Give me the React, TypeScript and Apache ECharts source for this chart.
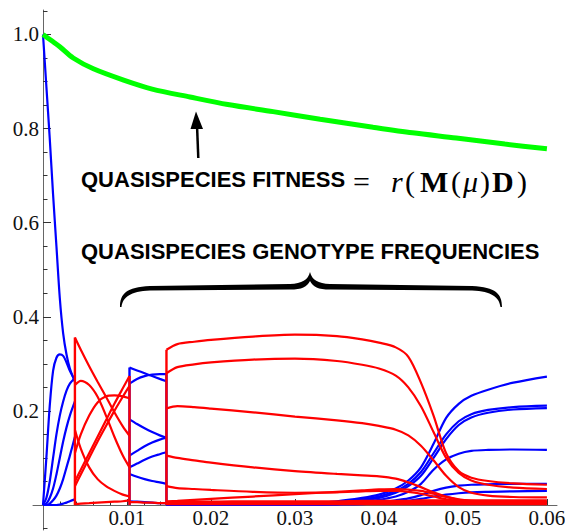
import React, { useEffect, useRef } from 'react';
import * as echarts from 'echarts';

const BRACE_D =
  'M0,35 C0,22 6,15 30,14 L170,12 C182,11.5 188,8 190,0 C192,8 198,11.5 210,12 L352,14 C376,15 382,22 382,35 ' +
  'L380.5,35 C379,25 372,19.5 352,18.5 L210,17.5 C198,17.5 193,15 190,9 C187,15 182,17.5 170,17.5 L30,18.5 C10,19.5 3,25 1.5,35 Z';
try {
  echarts.graphic.registerShape('brace', echarts.graphic.extendPath(BRACE_D, {}));
} catch (e) {}

// ---------- data ----------
const xTickLabels = [0.01, 0.02, 0.03, 0.04, 0.05, 0.06];
const xMinorTicks = [0.002, 0.004, 0.006, 0.008, 0.012, 0.014, 0.016, 0.018, 0.022, 0.024, 0.026, 0.028, 0.032, 0.034, 0.036, 0.038, 0.042, 0.044, 0.046, 0.048, 0.052, 0.054, 0.056, 0.058];
const yTickLabels = [0.2, 0.4, 0.6, 0.8, 1.0];
const yMinorTicks = [0.05, 0.1, 0.15, 0.25, 0.3, 0.35, 0.45, 0.5, 0.55, 0.65, 0.7, 0.75, 0.85, 0.9, 0.95, 1.05];
const yBelowTicks = [-0.05];

// fitness
const greenX = [0, 0.001, 0.002, 0.0036, 0.006, 0.0096, 0.013, 0.0175, 0.022, 0.0274, 0.033, 0.0393, 0.044, 0.0492, 0.055, 0.06];
const greenY = [1.0, 0.987, 0.974, 0.95, 0.927, 0.903, 0.884, 0.867, 0.851, 0.836, 0.82, 0.803, 0.791, 0.78, 0.767, 0.757];

// phase A (blue)
const phaseAX = [0, 0.0004, 0.0008, 0.0012, 0.0016, 0.002, 0.0024, 0.0028, 0.0032, 0.0038];
const blueA1 = [1.0, 0.89, 0.78, 0.66, 0.55, 0.44, 0.365, 0.32, 0.29, 0.262];
const blueA2 = [0, 0.1, 0.21, 0.285, 0.313, 0.32, 0.317, 0.303, 0.285, 0.265];
const blueA3 = [0, 0.015, 0.05, 0.1, 0.15, 0.19, 0.22, 0.243, 0.258, 0.27];
const blueA4 = [0, 0.003, 0.015, 0.035, 0.065, 0.1, 0.135, 0.165, 0.19, 0.22];
const blueA5 = [0, 0, 0.003, 0.01, 0.02, 0.035, 0.055, 0.08, 0.105, 0.145];
const blueA6 = [0, 0, 0, 0, 0, 0.001, 0.003, 0.005, 0.008, 0.012];

// phase B (red)
const phaseBX = [0.0038, 0.0045, 0.0055, 0.0065, 0.0075, 0.0085, 0.0095, 0.0103];
const redB1 = [0.356, 0.33, 0.295, 0.262, 0.23, 0.197, 0.167, 0.147];
const redB2 = [0.255, 0.264, 0.255, 0.23, 0.19, 0.145, 0.105, 0.08];
const redB3 = [0.16, 0.12, 0.08, 0.055, 0.04, 0.03, 0.022, 0.018];
const redB4 = [0.11, 0.15, 0.19, 0.218, 0.231, 0.233, 0.231, 0.227];
const redB5 = [0.05, 0.075, 0.11, 0.145, 0.18, 0.215, 0.248, 0.274];
const redB6 = [0.04, 0.065, 0.1, 0.135, 0.168, 0.2, 0.23, 0.253];
const redB7 = [0.002, 0.003, 0.004, 0.005, 0.006, 0.007, 0.008, 0.01];

// phase C (blue)
const phaseCX = [0.0103, 0.0112, 0.0121, 0.013, 0.0139, 0.0147];
const blueC1 = [0.292, 0.286, 0.28, 0.274, 0.268, 0.263];
const blueC2 = [0.258, 0.268, 0.274, 0.277, 0.278, 0.278];
const blueC3 = [0.182, 0.172, 0.163, 0.155, 0.148, 0.143];
const blueC4 = [0.105, 0.115, 0.125, 0.133, 0.139, 0.143];
const blueC5 = [0.08, 0.088, 0.096, 0.103, 0.108, 0.112];
const blueC6 = [0.066, 0.06, 0.055, 0.051, 0.048, 0.045];
const blueC7 = [0.008, 0.007, 0.006, 0.005, 0.004, 0.004];
const redC8 = [0.006, 0.006, 0.005, 0.005, 0.004, 0.004];

// phase D (red falling, blue rising)
const phaseDX = [0.0147, 0.016, 0.018, 0.02, 0.025, 0.03, 0.035, 0.038, 0.04, 0.042, 0.0435, 0.045, 0.0465, 0.048, 0.0495, 0.051, 0.053, 0.056, 0.06];
const redD1 = [0.33, 0.342, 0.347, 0.351, 0.358, 0.362, 0.359, 0.352, 0.345, 0.335, 0.315, 0.26, 0.19, 0.11, 0.072, 0.058, 0.051, 0.046, 0.043];
const redD2 = [0.28, 0.293, 0.299, 0.303, 0.309, 0.311, 0.306, 0.298, 0.29, 0.275, 0.25, 0.21, 0.155, 0.1, 0.068, 0.052, 0.043, 0.037, 0.034];
const redD3 = [0.205, 0.21, 0.208, 0.205, 0.197, 0.188, 0.18, 0.174, 0.168, 0.16, 0.148, 0.126, 0.095, 0.062, 0.038, 0.026, 0.02, 0.017, 0.016];
const redD4 = [0.105, 0.1, 0.095, 0.09, 0.08, 0.072, 0.066, 0.063, 0.061, 0.056, 0.048, 0.038, 0.027, 0.018, 0.012, 0.009, 0.007, 0.006, 0.006];
const redD5 = [0.04, 0.036, 0.034, 0.032, 0.028, 0.026, 0.027, 0.029, 0.03, 0.03, 0.028, 0.024, 0.018, 0.012, 0.008, 0.006, 0.005, 0.005, 0.005];
const redD6 = [0.008, 0.009, 0.011, 0.013, 0.018, 0.023, 0.028, 0.031, 0.033, 0.034, 0.033, 0.03, 0.024, 0.017, 0.011, 0.008, 0.006, 0.005, 0.005];
const redD7 = [0.002, 0.002, 0.002, 0.002, 0.002, 0.002, 0.002, 0.002, 0.002, 0.002, 0.002, 0.002, 0.002, 0.002, 0.002, 0.002, 0.002, 0.002, 0.002];
const redD8 = [0.004, 0.004, 0.005, 0.005, 0.005, 0.005, 0.006, 0.006, 0.006, 0.006, 0.006, 0.006, 0.006, 0.006, 0.006, 0.006, 0.006, 0.006, 0.006];
const redD9 = [0.006, 0.006, 0.007, 0.007, 0.008, 0.008, 0.008, 0.009, 0.009, 0.009, 0.009, 0.01, 0.01, 0.01, 0.01, 0.01, 0.01, 0.01, 0.01];
const blueE1 = [0, 0, 0, 0, 0.001, 0.003, 0.008, 0.015, 0.022, 0.035, 0.052, 0.08, 0.13, 0.185, 0.215, 0.232, 0.245, 0.26, 0.273];
const blueE2 = [0, 0, 0, 0, 0.001, 0.002, 0.006, 0.012, 0.018, 0.03, 0.045, 0.07, 0.11, 0.15, 0.178, 0.193, 0.202, 0.208, 0.211];
const blueE3 = [0, 0, 0, 0, 0.001, 0.002, 0.005, 0.01, 0.015, 0.026, 0.04, 0.062, 0.1, 0.14, 0.17, 0.186, 0.196, 0.203, 0.206];
const blueE4 = [0, 0, 0, 0, 0, 0.001, 0.003, 0.007, 0.011, 0.018, 0.028, 0.045, 0.075, 0.097, 0.109, 0.115, 0.117, 0.118, 0.117];
const blueE5 = [0, 0, 0, 0, 0, 0, 0.002, 0.004, 0.006, 0.01, 0.014, 0.021, 0.03, 0.037, 0.041, 0.043, 0.044, 0.045, 0.045];
const blueE6 = [0, 0, 0, 0, 0, 0, 0.001, 0.002, 0.004, 0.006, 0.009, 0.013, 0.018, 0.022, 0.025, 0.027, 0.028, 0.029, 0.03];

// ---------- helpers ----------
const BLUE = '#0000ff';
const RED = '#ff0000';
const GREEN = '#00ff00';
const SERIF = '"Liberation Serif", "Times New Roman", serif';
const SANS = '"Liberation Sans", Arial, Helvetica, sans-serif';
const AXIS = '#666';
const TICK = '#333';

function curve(xs: number[], ys: number[], color: string, width = 2.2, z = 2) {
  return {
    type: 'line',
    data: xs.map((x, i) => [x, ys[i]]),
    symbol: 'none',
    showSymbol: false,
    smooth: 0.3,
    lineStyle: { color, width },
    silent: true,
    z,
  };
}
function jump(x: number, top: number, color: string, z = 2) {
  return {
    type: 'line',
    data: [[x, 0], [x, top]],
    symbol: 'none',
    showSymbol: false,
    lineStyle: { color, width: 2.4 },
    silent: true,
    z,
  };
}

const last = (a: number[]) => a[a.length - 1];

function buildOption() {
  const series: any[] = [];
  [blueA1, blueA2, blueA3, blueA4, blueA5, blueA6].forEach((s) => series.push(curve(phaseAX, s, BLUE)));
  [blueC1, blueC2, blueC3, blueC4, blueC5, blueC6, blueC7].forEach((s) => series.push(curve(phaseCX, s, BLUE)));
  series.push(jump(phaseCX[0], blueC1[0], BLUE));
  series.push(jump(last(phaseCX), last(blueC2), BLUE));
  [blueE1, blueE2, blueE3, blueE4, blueE5, blueE6].forEach((s) => series.push(curve(phaseDX, s, BLUE)));
  [redB1, redB2, redB3, redB4, redB5, redB6, redB7].forEach((s) => series.push(curve(phaseBX, s, RED, 2.2, 3)));
  series.push(jump(phaseBX[0], redB1[0], RED, 3));
  series.push(jump(last(phaseBX), last(redB5), RED, 3));
  series.push(curve(phaseCX, redC8, RED, 2.2, 3));
  [redD1, redD2, redD3, redD4, redD5, redD6, redD7, redD8, redD9].forEach((s) => series.push(curve(phaseDX, s, RED, 2.2, 3)));
  series.push(jump(phaseDX[0], redD1[0], RED, 3));
  series.push(curve(greenX, greenY, GREEN, 5, 4));

  const X_MAX = 0.0612;
  const Y_MAX = 1.052;
  const mathFont = (w: string) => `${w}30px ${SERIF}`;

  return {
    animation: false,
    grid: [
      // main plotting area (x from 0, y from 0)
      { left: 43, right: 8, top: 10, bottom: 27, containLabel: false, outerBoundsMode: 'none' },
      // y axis running below zero
      { left: 43, right: 8, top: 10, bottom: 2, containLabel: false, outerBoundsMode: 'none' },
      // x axis running left of zero
      { left: 33, right: 8, top: 10, bottom: 27, containLabel: false, outerBoundsMode: 'none' },
    ],
    xAxis: [
      {
        type: 'value', gridIndex: 0, min: 0, max: X_MAX, position: 'bottom',
        splitLine: { show: false },
        axisLine: { show: false, onZero: false },
        axisTick: { inside: true, length: 6, customValues: xTickLabels, lineStyle: { color: TICK } },
        axisLabel: {
          customValues: xTickLabels,
          formatter: (v: number) => v.toFixed(2),
          fontFamily: SERIF,
          fontSize: 21,
          color: '#111',
          margin: 2,
        },
      },
      {
        type: 'value', gridIndex: 0, min: 0, max: X_MAX, position: 'bottom',
        splitLine: { show: false },
        axisLine: { show: false, onZero: false },
        axisTick: { inside: true, length: 3.5, customValues: xMinorTicks, lineStyle: { color: TICK } },
        axisLabel: { show: false },
      },
      { type: 'value', gridIndex: 1, min: 0, max: X_MAX, show: false },
      {
        type: 'value', gridIndex: 2, min: -0.0012, max: X_MAX, position: 'bottom',
        splitLine: { show: false },
        axisLine: { show: true, onZero: false, lineStyle: { color: AXIS, width: 1 } },
        axisTick: { show: false },
        axisLabel: { show: false },
      },
    ],
    yAxis: [
      {
        type: 'value', gridIndex: 0, min: 0, max: Y_MAX, position: 'left',
        splitLine: { show: false },
        axisLine: { show: false, onZero: false },
        axisTick: { inside: true, length: 8, customValues: yTickLabels, lineStyle: { color: TICK } },
        axisLabel: {
          customValues: yTickLabels,
          formatter: (v: number) => v.toFixed(1),
          fontFamily: SERIF,
          fontSize: 21,
          color: '#111',
          margin: 4,
        },
      },
      {
        type: 'value', gridIndex: 0, min: 0, max: Y_MAX, position: 'left',
        splitLine: { show: false },
        axisLine: { show: false, onZero: false },
        axisTick: { inside: true, length: 4.5, customValues: yMinorTicks, lineStyle: { color: TICK } },
        axisLabel: { show: false },
      },
      {
        type: 'value', gridIndex: 1, min: -0.053, max: Y_MAX, position: 'left',
        splitLine: { show: false },
        axisLine: { show: true, onZero: false, lineStyle: { color: AXIS, width: 1 } },
        axisTick: { inside: true, length: 4.5, customValues: yBelowTicks, lineStyle: { color: TICK } },
        axisLabel: { show: false },
      },
      { type: 'value', gridIndex: 2, min: 0, max: Y_MAX, show: false },
    ],
    series,
    graphic: [
      {
        type: 'line',
        shape: { x1: 198.3, y1: 158, x2: 197, y2: 125 },
        style: { stroke: '#000', lineWidth: 2.5 },
        z: 10,
      },
      {
        type: 'polygon',
        shape: { points: [[196, 111.5], [190.5, 129], [203, 129]] },
        style: { fill: '#000' },
        z: 10,
      },
      {
        type: 'text',
        x: 81,
        y: 179,
        style: {
          text: 'QUASISPECIES FITNESS',
          fill: '#000',
          font: `bold 22px ${SANS}`,
          verticalAlign: 'middle',
          align: 'left',
        },
        z: 10,
      },
      {
        type: 'text',
        x: 353,
        y: 181,
        style: {
          text: '{eq|=}{ir|r}{p1|(}{bm|M}{p2|(}{mu|μ}{p3|)}{bd|D}{p4|)}',
          fill: '#000',
          font: mathFont(''),
          verticalAlign: 'middle',
          align: 'left',
          rich: {
            eq: { font: mathFont(''), width: 38, align: 'left', fill: '#000' },
            ir: { font: mathFont('italic '), width: 14, align: 'left', fill: '#000' },
            p1: { font: mathFont(''), width: 15, align: 'left', fill: '#000' },
            bm: { font: mathFont('bold '), width: 31, align: 'left', fill: '#000' },
            p2: { font: mathFont(''), width: 12, align: 'left', fill: '#000' },
            mu: { font: mathFont('italic '), width: 17, align: 'left', fill: '#000' },
            p3: { font: mathFont(''), width: 12, align: 'left', fill: '#000' },
            bd: { font: mathFont('bold '), width: 25, align: 'left', fill: '#000' },
            p4: { font: mathFont(''), width: 12, align: 'left', fill: '#000' },
          },
        },
        z: 10,
      },
      {
        type: 'text',
        x: 81,
        y: 251.5,
        style: {
          text: 'QUASISPECIES GENOTYPE FREQUENCIES',
          fill: '#000',
          font: `bold 22px ${SANS}`,
          verticalAlign: 'middle',
          align: 'left',
        },
        z: 10,
      },
      {
        type: 'brace',
        x: 120,
        y: 272,
        style: { fill: '#000' },
        z: 10,
      },
    ],
  };
}

export default function App() {
  const ref = useRef<HTMLDivElement>(null);
  useEffect(() => {
    document.body.style.margin = '0';
    const chart = echarts.init(ref.current!, null, { renderer: 'svg' });
    chart.setOption(buildOption() as any);
    return () => chart.dispose();
  }, []);
  return <div ref={ref} style={{ width: 565, height: 532 }} />;
}
